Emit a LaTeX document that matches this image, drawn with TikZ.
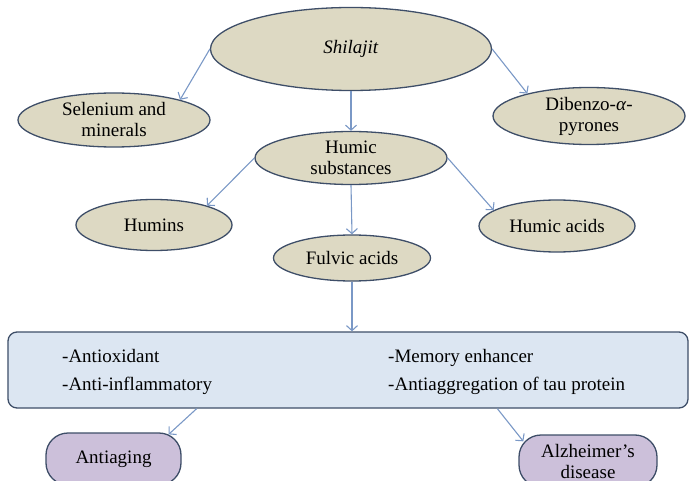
\documentclass[tikz,border=0pt]{standalone}
\usepackage{fontspec}
\setmainfont{Liberation Serif}
\usetikzlibrary{shapes.geometric,arrows.meta}
\definecolor{edgecol}{RGB}{62,78,104}
\definecolor{tanfill}{RGB}{221,217,195}
\definecolor{arrcol}{RGB}{122,152,198}
\definecolor{palefill}{RGB}{220,230,242}
\definecolor{lavfill}{RGB}{204,192,218}
\tikzset{
  lab/.style={align=center, font=\fontsize{19bp}{21bp}\selectfont, inner sep=0pt},
  oval/.style={ellipse, draw=edgecol, line width=1.3bp, fill=tanfill, inner sep=0pt},
  pill/.style={rectangle, draw=edgecol, line width=1.3bp, fill=lavfill, rounded corners=22bp,
    align=center, font=\fontsize{19bp}{21bp}\selectfont, inner sep=0pt},
  panel/.style={rectangle, draw=edgecol, line width=1.3bp, fill=palefill, rounded corners=9bp, inner sep=0pt},
  item/.style={anchor=west, inner sep=0pt, text height=14bp, text depth=4bp, font=\fontsize{19bp}{21bp}\selectfont},
  link/.style={draw=arrcol, line width=1.1bp, -{Straight Barb[length=5bp,width=11bp]}}
}
\begin{document}
\begin{tikzpicture}[x=1bp,y=-1bp]
\path[use as bounding box] (0,0) rectangle (690,481);
% ovals
\node[oval, minimum width=281bp, minimum height=83bp, label={[lab]center:\textit{Shilajit}}] (shil) at (351,49) {};
\node[oval, minimum width=192bp, minimum height=54bp, label={[lab]center:{Selenium and\\minerals}}] (sel) at (114,120) {};
\node[oval, minimum width=192bp, minimum height=57bp, label={[lab]center:{Dibenzo-\textit{α}-\\pyrones}}] (dib) at (589,116) {};
\node[oval, minimum width=192bp, minimum height=53bp, label={[lab]center:{Humic\\substances}}] (hum) at (351,158) {};
\node[oval, minimum width=156bp, minimum height=51bp, label={[lab]center:Humins}] (humins) at (154,225) {};
\node[oval, minimum width=156bp, minimum height=52bp, label={[lab]center:Humic acids}] (hacids) at (557,226) {};
\node[oval, minimum width=157bp, minimum height=46bp, label={[lab]center:Fulvic acids}] (fulvic) at (352,258) {};
% panel
\node[panel, minimum width=680bp, minimum height=76bp] (panel) at (348,370) {};
\node[item] (p1) at (62,357) {-Antioxidant};
\node[item] (p2) at (62,385) {-Anti-inflammatory};
\node[item] (p3) at (388,357) {-Memory enhancer};
\node[item] (p4) at (388,385) {-Antiaggregation of tau protein};
% bottom
\node[pill, minimum width=135bp, minimum height=52bp] (anti) at (113.5,459) {Antiaging};
\node[pill, minimum width=138bp, minimum height=52bp] (alz) at (588,461) {Alzheimer’s\\disease};
% connectors
\draw[link] (shil.west) -- (sel.17);
\draw[link] (shil.east) -- (dib.160);
\draw[link] (shil.south) -- (hum.north);
\draw[link] (hum.west) -- (humins.20);
\draw[link] (hum.east) -- (hacids.166);
\draw[link] (hum.south) -- (fulvic.north);
\draw[link] (fulvic.south) -- (fulvic.south |- panel.north);
\draw[link] ([xshift=15bp]anti.east |- panel.south) -- ([xshift=-13bp,yshift=-2bp]anti.north east);
\draw[link] ([xshift=-21bp]alz.west |- panel.south) -- ([xshift=5bp,yshift=-7bp]alz.north west);
\end{tikzpicture}
\end{document}
